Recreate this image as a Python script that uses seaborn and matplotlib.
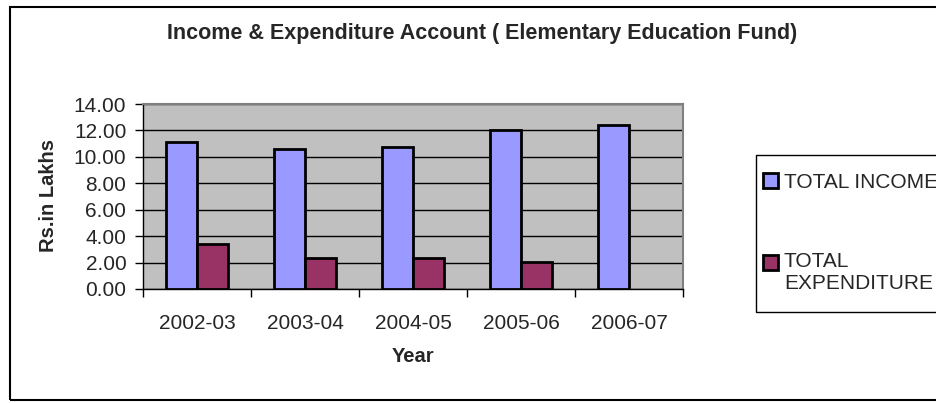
import numpy as np
import pandas as pd
import matplotlib
matplotlib.use("Agg")
import matplotlib.pyplot as plt
import seaborn as sns
from matplotlib.patches import Rectangle
from matplotlib.legend_handler import HandlerPatch
from matplotlib.ticker import FormatStrFormatter, FixedLocator

# data
years = ["2002-03", "2003-04", "2004-05", "2005-06", "2006-07"]
total_income = [11.10, 10.60, 10.75, 12.07, 12.42]
total_expenditure = [3.38, 2.37, 2.37, 2.07, 0.0]
series_names = ["TOTAL INCOME", "TOTAL\nEXPENDITURE"]
colors = ["#9999FF", "#993366"]

df = pd.DataFrame({
    "Year": years * 2,
    "value": total_income + total_expenditure,
    "series": [series_names[0]] * len(years) + [series_names[1]] * len(years),
})

sns.set_style("white")
plt.rcParams["font.family"] = ["Liberation Sans", "DejaVu Sans"]

W, H = 936, 403
fig = plt.figure(figsize=(W / 100, H / 100), dpi=100)
ax = fig.add_axes([143 / W, 1 - 289 / H, (683 - 143) / W, (289 - 104) / H])

sns.barplot(data=df, x="Year", y="value", hue="series", palette=colors,
            saturation=1, width=0.58, edgecolor="black", linewidth=2,
            ax=ax, zorder=3)
# no visible bar for zero values
for p in ax.containers:
    for bar in p:
        if bar.get_height() == 0:
            bar.set_visible(False)

ax.set_facecolor("#C0C0C0")
ax.set_ylim(0, 14)
ax.set_xlim(-0.5, 4.5)
ax.set_yticks(np.arange(0, 15, 2))
ax.yaxis.set_major_formatter(FormatStrFormatter("%.2f"))
ax.yaxis.grid(True, color="black", linewidth=1, zorder=1)
ax.set_axisbelow(True)
ax.tick_params(axis="y", direction="out", length=6, width=1, color="black",
               labelsize=15, left=True, pad=6)
ax.tick_params(axis="x", which="major", length=0, labelsize=15, pad=18)
ax.xaxis.set_minor_locator(FixedLocator(np.arange(-0.5, 5, 1)))
ax.tick_params(axis="x", which="minor", direction="out", length=6, width=1,
               color="black", bottom=True)

for side in ["top", "right"]:
    ax.spines[side].set_color("#808080")
    ax.spines[side].set_linewidth(1.5)
for side in ["left", "bottom"]:
    ax.spines[side].set_color("black")
    ax.spines[side].set_linewidth(1)

ax.set_xlabel("")
ax.set_ylabel("")
fig.text(413 / W, 1 - 357 / H, "Year", ha="center", va="center",
         fontsize=14.5, fontweight="bold")
fig.text(48 / W, 1 - 195 / H, "Rs.in Lakhs", ha="center", va="center",
         rotation=90, fontsize=14.5, fontweight="bold")

fig.text(482 / W, 1 - 34 / H,
         "Income & Expenditure Account ( Elementary Education Fund)",
         ha="center", va="center", fontsize=15.5, fontweight="bold")


# legend square for the two-line entry sits beside its first line
def raised_square(legend, orig_handle, xdescent, ydescent, width, height, fontsize):
    return Rectangle((-xdescent, -ydescent + 0.5 * fontsize), width, height)


ax.get_legend().remove()
handles = [Rectangle((0, 0), 1, 1, facecolor=c, edgecolor="black", linewidth=2)
           for c in colors]
leg = fig.legend(handles, series_names, loc="upper left",
                 bbox_to_anchor=(763 / W, 1 - 173 / H),
                 fontsize=15, frameon=False,
                 handlelength=0.7, handleheight=0.7,
                 handletextpad=0.3, labelspacing=2.9, borderpad=0,
                 borderaxespad=0,
                 handler_map={handles[1]: HandlerPatch(patch_func=raised_square)})
# frame drawn separately so it can run off the right edge like the original
fig.patches.append(Rectangle((756 / W, 1 - 312 / H), 1.0, (312 - 155) / H,
                             transform=fig.transFigure, fill=False,
                             edgecolor="black", linewidth=1))

# outer chart border
fig.patches.append(Rectangle((10 / W, 1 - 400 / H), 1.0, 393 / H,
                             transform=fig.transFigure, fill=False,
                             edgecolor="black", linewidth=1.5))

fig.savefig("out.png", dpi=100)
